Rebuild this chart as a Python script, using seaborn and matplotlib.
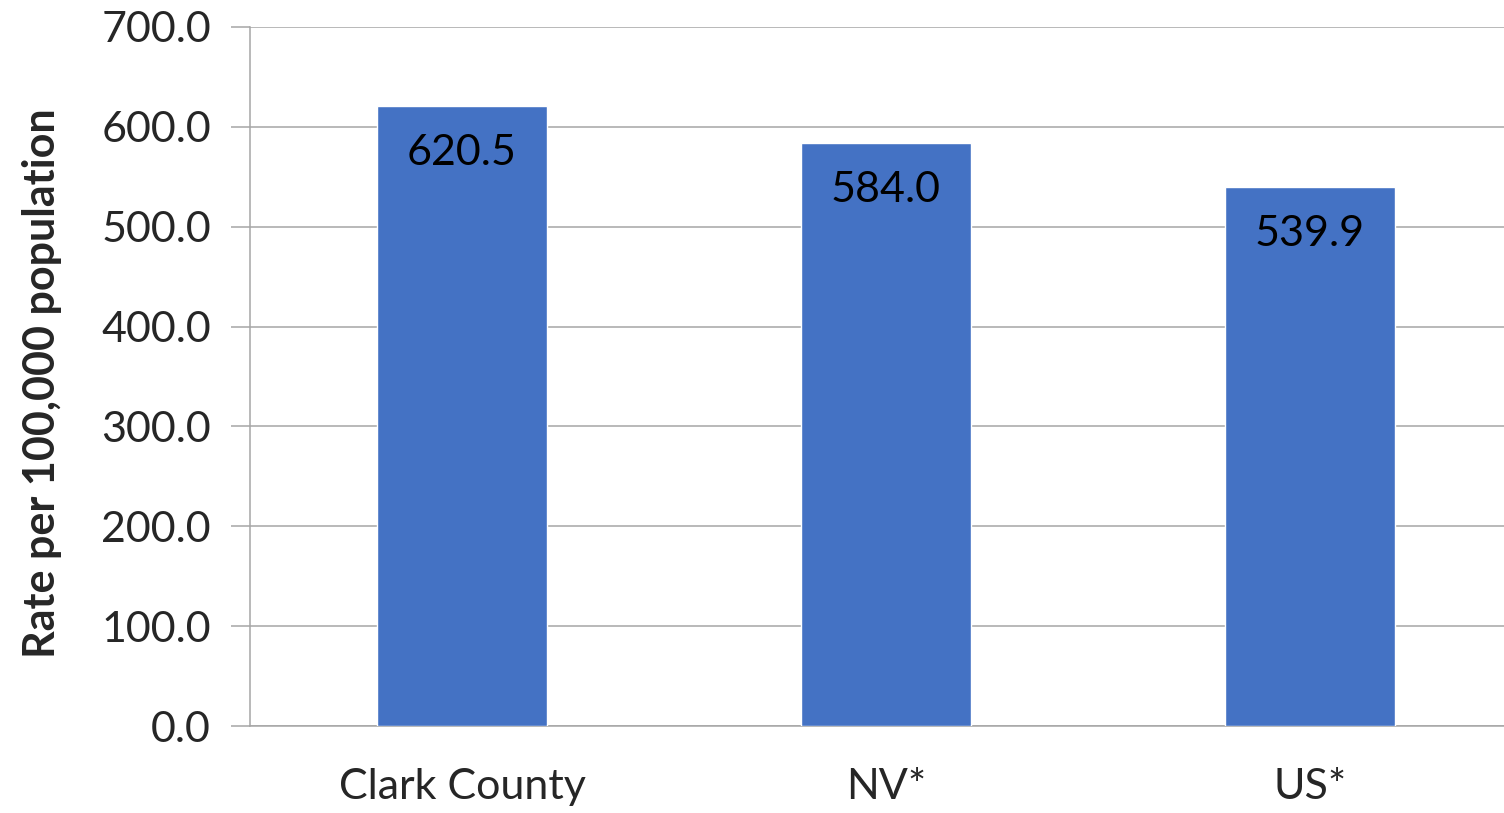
import matplotlib
matplotlib.use("Agg")
import matplotlib.pyplot as plt
import seaborn as sns
import pandas as pd

# ------------------------------------------
# DATA
# ------------------------------------------
categories = ["Clark County", "NV*", "US*"]
rates = [620.5, 584.0, 539.9]
y_ticks = [0, 100, 200, 300, 400, 500, 600, 700]

df = pd.DataFrame({"area": categories, "rate": rates})

sns.set_theme(style="white")
plt.rcParams["font.family"] = ["Lato", "DejaVu Sans"]

fig = plt.figure(figsize=(15.04, 8.13), dpi=100)
ax = fig.add_axes([250 / 1504, 87 / 813, 1 - 250 / 1504, 699 / 813])

sns.barplot(data=df, x="area", y="rate", color="#4472C4", width=0.403,
            saturation=1, ax=ax, zorder=3)

# gridlines + axis styling (excel look)
ax.set_ylim(0, 700)
ax.set_xlim(-0.5, 2.4575)
ax.set_yticks(y_ticks)
ax.set_yticklabels([f"{v:.1f}" for v in y_ticks], fontsize=31)
ax.yaxis.grid(True, color="#a6a6a6", linewidth=1.1, zorder=0)
ax.set_axisbelow(True)
ax.tick_params(axis="y", direction="out", length=14, width=1.1, color="#a6a6a6",
               pad=14, left=True)
ax.tick_params(axis="x", length=0, pad=30, labelsize=31)
for side in ["top", "right"]:
    ax.spines[side].set_visible(False)
for side in ["left", "bottom"]:
    ax.spines[side].set_color("#a6a6a6")
    ax.spines[side].set_linewidth(1.1)

ax.set_xlabel("")
ax.set_ylabel("Rate per 100,000 population", fontsize=31, fontweight="bold")
ax.yaxis.set_label_coords(-0.15, 0.49)

# value labels inside the top of each bar
for i, v in enumerate(rates):
    ax.text(i, v - 28, f"{v:.1f}", ha="center", va="top", fontsize=31,
            color="black", zorder=4)

fig.savefig("out.png", dpi=100)
